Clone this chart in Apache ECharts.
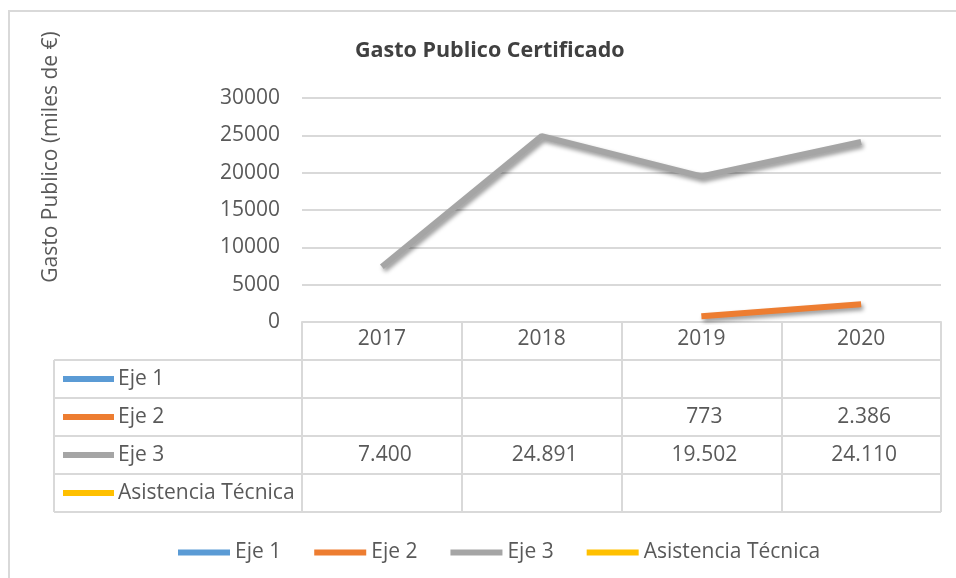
<!DOCTYPE html>
<html>
<head>
<meta charset="utf-8">
<script src="https://cdn.jsdelivr.net/npm/echarts@6/dist/echarts.min.js"></script>
<style>
  html, body { margin: 0; padding: 0; background: #fff; }
  #chart { width: 956px; height: 578px; }
</style>
</head>
<body>
<div id="chart"></div>
<script>
// datos del grafico
var years = ['2017', '2018', '2019', '2020'];
var seriesNames = ['Eje 1', 'Eje 2', 'Eje 3', 'Asistencia Técnica'];
var eje1 = [null, null, null, null];
var eje2 = [null, null, 773, 2386];
var eje3 = [7400, 24891, 19502, 24110];
var asistencia = [null, null, null, null];
var yMin = 0, yMax = 30000, yStep = 5000;

var colors = ['#5B9BD5', '#ED7D31', '#A5A5A5', '#FFC000'];
var FONT = '"Open Sans", "Noto Sans", sans-serif';
var FS = 21;
var TXT = '#595959';
var GRID_C = '#d9d9d9';

var gridLeft = 302, gridRight = 15, gridTop = 98, gridHeight = 224;
var rowH = 38, tableLeft = 54;

function fmt(v){
    if (v === null || v === undefined) return '';
    return String(v).replace(/\B(?=(\d{3})+(?!\d))/g, '.');
}

var chart = echarts.init(document.getElementById('chart'));

var allData = [eje1, eje2, eje3, asistencia];
var series = allData.map(function(d, i){
    return {
        name: seriesNames[i],
        type: 'line',
        data: d,
        symbol: 'none',
        connectNulls: false,
        lineStyle: {
            width: 6,
            color: colors[i],
            shadowColor: 'rgba(0,0,0,0.4)',
            shadowBlur: 4,
            shadowOffsetX: 2,
            shadowOffsetY: 3
        },
        itemStyle: { color: colors[i] }
    };
});

var option = {
    animation: false,
    color: colors,
    title: {
        text: 'Gasto Publico Certificado',
        left: 350,
        top: 35,
        textStyle: { fontFamily: FONT, fontSize: 21.5, fontWeight: 'bold', color: '#404040' }
    },
    grid: { left: gridLeft, right: gridRight, top: gridTop, height: gridHeight },
    xAxis: {
        type: 'category',
        data: years,
        boundaryGap: true,
        axisLine: { lineStyle: { color: GRID_C, width: 2 } },
        axisTick: { show: true, length: rowH * 5, lineStyle: { color: GRID_C, width: 2 } },
        axisLabel: { margin: 7, fontFamily: FONT, fontSize: FS, color: TXT }
    },
    yAxis: {
        type: 'value',
        min: yMin,
        max: yMax,
        interval: yStep,
        axisLine: { show: false },
        axisTick: { show: false },
        axisLabel: { margin: 22, fontFamily: FONT, fontSize: FS, color: TXT,
                     formatter: function(v){ return String(v); } },
        splitLine: { lineStyle: { color: GRID_C, width: 2 } }
    },
    legend: {
        data: seriesNames,
        left: 173,
        top: 537,
        icon: 'rect',
        itemWidth: 52,
        itemHeight: 6,
        itemGap: 33,
        textStyle: { fontFamily: FONT, fontSize: FS, color: TXT }
    },
    series: series
};
chart.setOption(option);

// tabla de datos debajo del eje
var axisY = gridTop + gridHeight;
var plotRight = 956 - gridRight;
var g = [];
g.push({
    type: 'rect', silent: true,
    shape: { x: 9, y: 11, width: 980, height: 620 },
    style: { fill: 'none', stroke: GRID_C, lineWidth: 2 }
});
g.push({
    type: 'text', silent: true,
    x: 51, y: 157, rotation: Math.PI / 2,
    style: { text: 'Gasto Publico (miles de €)', fontFamily: FONT, fontSize: FS, fill: TXT,
             align: 'center', verticalAlign: 'middle' }
});
for (var r = 1; r <= 5; r++) {
    g.push({
        type: 'line', silent: true,
        shape: { x1: tableLeft, y1: axisY + rowH * r, x2: plotRight, y2: axisY + rowH * r },
        style: { stroke: GRID_C, lineWidth: 2 }
    });
}
g.push({
    type: 'line', silent: true,
    shape: { x1: tableLeft, y1: axisY + rowH, x2: tableLeft, y2: axisY + rowH * 5 },
    style: { stroke: GRID_C, lineWidth: 2 }
});
allData.forEach(function(d, i){
    var cy = axisY + rowH * (i + 1) + rowH / 2;
    g.push({
        type: 'rect', silent: true,
        shape: { x: 63, y: cy - 3, width: 51, height: 6 },
        style: { fill: colors[i] }
    });
    g.push({
        type: 'text', silent: true,
        x: 118, y: cy,
        style: { text: seriesNames[i], fontFamily: FONT, fontSize: FS, fill: TXT, verticalAlign: 'middle' }
    });
    d.forEach(function(v, j){
        var cx = chart.convertToPixel({ xAxisIndex: 0 }, years[j]);
        g.push({
            type: 'text', silent: true,
            x: cx + 3, y: cy,
            style: { text: fmt(v), fontFamily: FONT, fontSize: FS, fill: TXT, align: 'center', verticalAlign: 'middle' }
        });
    });
});
chart.setOption({ graphic: g });
</script>
</body>
</html>
